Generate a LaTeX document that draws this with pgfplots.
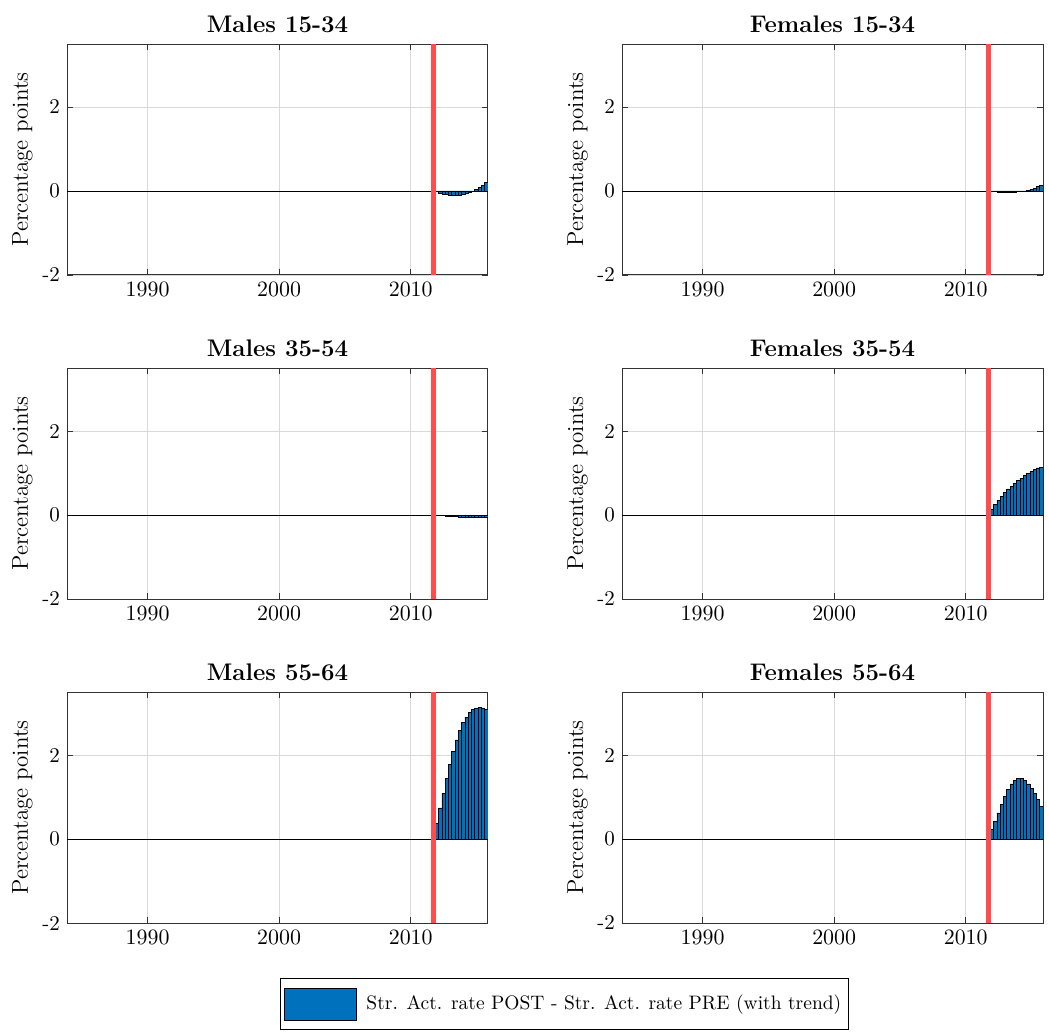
\documentclass[border=0pt]{standalone}
\usepackage{pgfplots}
\pgfplotsset{compat=1.18}
\definecolor{mblue}{rgb}{0,0.447,0.741}
\definecolor{mred}{rgb}{1,0.3,0.3}
\pgfplotsset{panel/.style={
  width=210.5pt, height=115.5pt, scale only axis,
  xmin=1983.875, xmax=2015.875, ymin=-2, ymax=3.5,
  xtick={1990,2000,2010}, ytick={-2,0,2}, yticklabels={-2,0,2},
  xticklabel style={/pgf/number format/1000 sep={}},
  grid=major, major grid style={black!15, line width=0.4pt},
  tick align=inside, major tick length=3pt,
  tick style={black!80, line width=0.4pt},
  axis line style={black!80, line width=0.5pt},
  ylabel={Percentage points}, ylabel shift=-2pt,
  title style={font=\bfseries\fontsize{12}{14}\selectfont, yshift=-4pt},
  label style={font=\fontsize{11.5}{13}\selectfont},
  ticklabel style={font=\fontsize{10.5}{12}\selectfont},
}}
\begin{document}
\begin{tikzpicture}
\path[use as bounding box] (-33.5pt,-56pt) rectangle (491pt,461.5pt);
% Row 1
\begin{axis}[panel, at={(0pt,324pt)}, title={Males 15-34}]
\addplot[black, line width=0.45pt, forget plot] coordinates {(1983.875,0)(2015.875,0)};
\addplot[ybar, bar width=0.25, fill=mblue, draw=black, line width=0.35pt] coordinates {
(2012.00,-0.02)(2012.25,-0.05)(2012.50,-0.07)(2012.75,-0.09)(2013.00,-0.10)(2013.25,-0.11)(2013.50,-0.11)(2013.75,-0.10)
(2014.00,-0.08)(2014.25,-0.06)(2014.50,-0.03)(2014.75,0.00)(2015.00,0.04)(2015.25,0.09)(2015.50,0.14)(2015.75,0.20)};
\addplot[mred, line width=2.5pt] coordinates {(2011.75,-2)(2011.75,3.5)};
\end{axis}
\begin{axis}[panel, at={(277.5pt,324pt)}, title={Females 15-34}]
\addplot[black, line width=0.45pt, forget plot] coordinates {(1983.875,0)(2015.875,0)};
\addplot[ybar, bar width=0.25, fill=mblue, draw=black, line width=0.35pt] coordinates {
(2012.00,-0.01)(2012.25,-0.02)(2012.50,-0.03)(2012.75,-0.04)(2013.00,-0.04)(2013.25,-0.04)(2013.50,-0.04)(2013.75,-0.03)
(2014.00,-0.02)(2014.25,-0.01)(2014.50,0.00)(2014.75,0.02)(2015.00,0.04)(2015.25,0.07)(2015.50,0.10)(2015.75,0.14)};
\addplot[mred, line width=2.5pt] coordinates {(2011.75,-2)(2011.75,3.5)};
\end{axis}
% Row 2
\begin{axis}[panel, at={(0pt,162pt)}, title={Males 35-54}]
\addplot[black, line width=0.45pt, forget plot] coordinates {(1983.875,0)(2015.875,0)};
\addplot[ybar, bar width=0.25, fill=mblue, draw=black, line width=0.35pt] coordinates {
(2012.00,-0.005)(2012.25,-0.01)(2012.50,-0.02)(2012.75,-0.025)(2013.00,-0.03)(2013.25,-0.035)(2013.50,-0.04)(2013.75,-0.045)
(2014.00,-0.05)(2014.25,-0.05)(2014.50,-0.055)(2014.75,-0.06)(2015.00,-0.06)(2015.25,-0.06)(2015.50,-0.06)(2015.75,-0.06)};
\addplot[mred, line width=2.5pt] coordinates {(2011.75,-2)(2011.75,3.5)};
\end{axis}
\begin{axis}[panel, at={(277.5pt,162pt)}, title={Females 35-54}]
\addplot[black, line width=0.45pt, forget plot] coordinates {(1983.875,0)(2015.875,0)};
\addplot[ybar, bar width=0.25, fill=mblue, draw=black, line width=0.35pt] coordinates {
(2012.00,0.13)(2012.25,0.25)(2012.50,0.35)(2012.75,0.45)(2013.00,0.54)(2013.25,0.62)(2013.50,0.69)(2013.75,0.76)
(2014.00,0.83)(2014.25,0.88)(2014.50,0.94)(2014.75,0.99)(2015.00,1.04)(2015.25,1.08)(2015.50,1.12)(2015.75,1.13)};
\addplot[mred, line width=2.5pt] coordinates {(2011.75,-2)(2011.75,3.5)};
\end{axis}
% Row 3
\begin{axis}[panel, at={(0pt,0pt)}, title={Males 55-64},
  legend style={at={(1.1817,-0.3506)}, anchor=center, draw=black, line width=0.5pt,
    inner xsep=1.8pt, inner ysep=4.5pt, font=\fontsize{9.75}{12}\selectfont,
    /tikz/every odd column/.append style={column sep=3pt}},
  legend cell align=left,
  legend image code/.code={\draw[fill=mblue, draw=black, line width=0.4pt] (0pt,-8pt) rectangle (36pt,8pt);}]
\addplot[black, line width=0.45pt, forget plot] coordinates {(1983.875,0)(2015.875,0)};
\addplot[ybar, bar width=0.25, fill=mblue, draw=black, line width=0.35pt] coordinates {
(2012.00,0.37)(2012.25,0.74)(2012.50,1.08)(2012.75,1.44)(2013.00,1.77)(2013.25,2.09)(2013.50,2.36)(2013.75,2.58)
(2014.00,2.77)(2014.25,2.90)(2014.50,3.01)(2014.75,3.08)(2015.00,3.12)(2015.25,3.13)(2015.50,3.12)(2015.75,3.08)};
\addlegendentry{Str. Act. rate POST - Str. Act. rate PRE (with trend)}
\addplot[mred, line width=2.5pt, forget plot] coordinates {(2011.75,-2)(2011.75,3.5)};
\end{axis}
\begin{axis}[panel, at={(277.5pt,0pt)}, title={Females 55-64}]
\addplot[black, line width=0.45pt, forget plot] coordinates {(1983.875,0)(2015.875,0)};
\addplot[ybar, bar width=0.25, fill=mblue, draw=black, line width=0.35pt] coordinates {
(2012.00,0.22)(2012.25,0.42)(2012.50,0.62)(2012.75,0.82)(2013.00,1.02)(2013.25,1.18)(2013.50,1.31)(2013.75,1.39)
(2014.00,1.44)(2014.25,1.44)(2014.50,1.39)(2014.75,1.31)(2015.00,1.20)(2015.25,1.08)(2015.50,0.94)(2015.75,0.78)};
\addplot[mred, line width=2.5pt] coordinates {(2011.75,-2)(2011.75,3.5)};
\end{axis}
\end{tikzpicture}
\end{document}
